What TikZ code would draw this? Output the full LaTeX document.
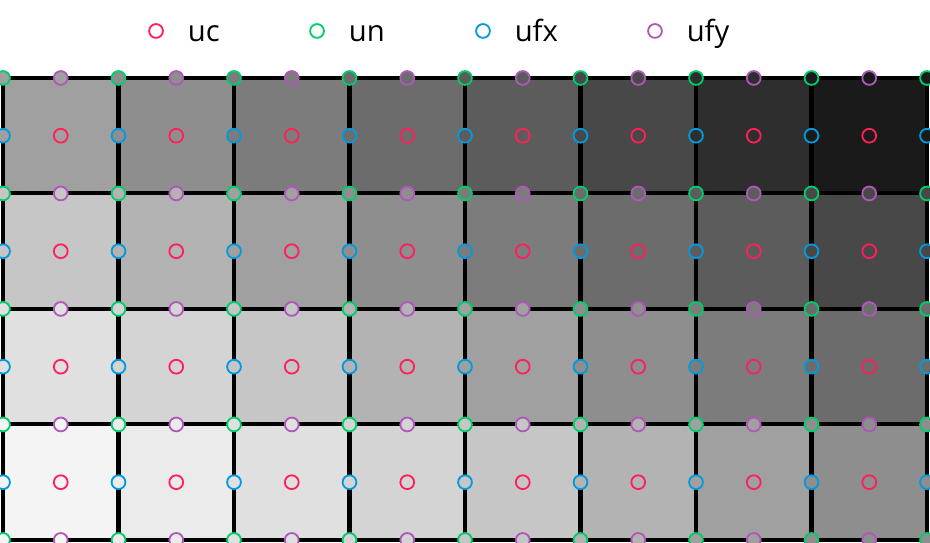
\documentclass[tikz,border=0pt]{standalone}
\usepackage{fontspec}
\setmainfont{Open Sans}
\usetikzlibrary{positioning}
\definecolor{ucol}{HTML}{FF1F5B}
\definecolor{ncol}{HTML}{00CD6C}
\definecolor{fxcol}{HTML}{009ADE}
\definecolor{fycol}{HTML}{AF58BA}
\tikzstyle{marker}=[circle,inner sep=0pt,minimum size=3.4pt,line width=0.45pt]
\tikzstyle{uc}=[marker,draw=ucol]
\tikzstyle{un}=[marker,draw=ncol]
\tikzstyle{ufx}=[marker,draw=fxcol]
\tikzstyle{ufy}=[marker,draw=fycol]
\tikzstyle{legtext}=[anchor=base west,inner sep=0pt,font=\fontsize{7.2}{8}\selectfont]
% grey level of cell (column, row from bottom)
\newcommand{\cellshade}[2]{\pgfmathtruncatemacro\g{{244,235,224,212,198,179,160,142,124,108,92,72,46,26}[2*(#2)+(#1)]}}

\begin{document}
\begin{tikzpicture}[x=1cm,y=1cm]
    \useasboundingbox (-0.026,-0.026) rectangle (8.026,4.675);
    % cells
    \foreach \r in {0,...,3}
      \foreach \c in {0,...,7}{
        \cellshade{\c}{\r}
        \fill[fill={rgb,255:red,\g;green,\g;blue,\g}] (\c,\r) rectangle ++(1,1);
      }
    \draw[line width=1pt] (0,0) grid (8,4);

    % uc: cell centres
    \foreach \r in {0,...,3}
      \foreach \c in {0,...,7}{
        \cellshade{\c}{\r}
        \node[uc,fill={rgb,255:red,\g;green,\g;blue,\g}] (uc-\c-\r) at (\c+0.5,\r+0.5) {};
      }
    % un: vertices
    \foreach \i in {0,...,8}
      \foreach \j in {0,...,4}{
        \pgfmathtruncatemacro\cc{min(\i,7)}
        \pgfmathtruncatemacro\rr{max(\j-1,0)}
        \cellshade{\cc}{\rr}
        \node[un,fill={rgb,255:red,\g;green,\g;blue,\g}] (un-\i-\j) at (\i,\j) {};
      }
    % ufx: vertical faces
    \foreach \i in {0,...,8}
      \foreach \r in {0,...,3}{
        \pgfmathtruncatemacro\cc{min(\i,7)}
        \cellshade{\cc}{\r}
        \node[ufx,fill={rgb,255:red,\g;green,\g;blue,\g}] (ufx-\i-\r) at (\i,\r+0.5) {};
      }
    % ufy: horizontal faces
    \foreach \c in {0,...,7}
      \foreach \j in {0,...,4}{
        \pgfmathtruncatemacro\rr{max(\j-1,0)}
        \cellshade{\c}{\rr}
        \node[ufy,fill={rgb,255:red,\g;green,\g;blue,\g}] (ufy-\c-\j) at (\c+0.5,\j) {};
      }

    % legend
    \node[uc,fill=white] (luc) at (1.325,4.407) {};
    \node[un,fill=white] (lun) at (2.719,4.407) {};
    \node[ufx,fill=white] (lufx) at (4.156,4.407) {};
    \node[ufy,fill=white] (lufy) at (5.645,4.407) {};
    \node[legtext] (tuc) at ([xshift=0.268cm]luc.center |- 0,4.312) {uc};
    \node[legtext] (tun) at ([xshift=0.268cm]lun.center |- 0,4.312) {un};
    \node[legtext] (tufx) at ([xshift=0.268cm]lufx.center |- 0,4.312) {ufx};
    \node[legtext] (tufy) at ([xshift=0.268cm]lufy.center |- 0,4.312) {ufy};
\end{tikzpicture}
\end{document}
